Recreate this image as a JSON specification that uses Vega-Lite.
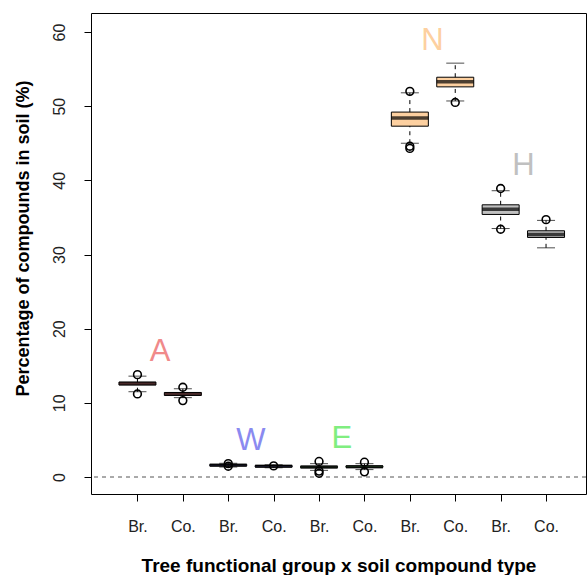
{
  "$schema": "https://vega.github.io/schema/vega-lite/v6.json",
  "width": 495,
  "height": 481,
  "autosize": "none",
  "padding": {"left": 91, "top": 13, "right": 1, "bottom": 81},
  "background": "white",
  "config": {
    "view": {"stroke": "black", "strokeWidth": 1},
    "font": "Liberation Sans",
    "axis": {
      "domain": false,
      "grid": false,
      "tickColor": "black",
      "tickSize": 7,
      "labelColor": "#222222",
      "labelFont": "Liberation Sans",
      "titleFont": "Liberation Sans",
      "titleColor": "black",
      "titleFontWeight": "bold"
    }
  },
  "datasets": {
    "boxes": [
      {"pos": 1, "group": "A", "type": "Br.", "lower": 11.5, "q1": 12.4, "median": 12.6, "q3": 12.8, "upper": 13.6},
      {"pos": 2, "group": "A", "type": "Co.", "lower": 10.7, "q1": 11.0, "median": 11.2, "q3": 11.4, "upper": 11.9},
      {"pos": 3, "group": "W", "type": "Br.", "lower": 1.35, "q1": 1.5, "median": 1.6, "q3": 1.7, "upper": 1.85},
      {"pos": 4, "group": "W", "type": "Co.", "lower": 1.25, "q1": 1.35, "median": 1.45, "q3": 1.55, "upper": 1.65},
      {"pos": 5, "group": "E", "type": "Br.", "lower": 0.9, "q1": 1.25, "median": 1.35, "q3": 1.45, "upper": 1.8},
      {"pos": 6, "group": "E", "type": "Co.", "lower": 1.0, "q1": 1.3, "median": 1.4, "q3": 1.5, "upper": 1.8},
      {"pos": 7, "group": "N", "type": "Br.", "lower": 45.0, "q1": 47.3, "median": 48.4, "q3": 49.2, "upper": 51.8},
      {"pos": 8, "group": "N", "type": "Co.", "lower": 50.7, "q1": 52.6, "median": 53.3, "q3": 53.9, "upper": 55.8},
      {"pos": 9, "group": "H", "type": "Br.", "lower": 33.5, "q1": 35.4, "median": 36.1, "q3": 36.7, "upper": 38.6},
      {"pos": 10, "group": "H", "type": "Co.", "lower": 30.9, "q1": 32.3, "median": 32.7, "q3": 33.2, "upper": 34.6}
    ],
    "outliers": [
      {"pos": 1, "value": 13.8}, {"pos": 1, "value": 11.2},
      {"pos": 2, "value": 12.1}, {"pos": 2, "value": 10.3},
      {"pos": 3, "value": 1.8}, {"pos": 3, "value": 1.45},
      {"pos": 4, "value": 1.5},
      {"pos": 5, "value": 2.1}, {"pos": 5, "value": 0.5}, {"pos": 5, "value": 0.8},
      {"pos": 6, "value": 2.0}, {"pos": 6, "value": 0.7},
      {"pos": 7, "value": 52.0}, {"pos": 7, "value": 44.3}, {"pos": 7, "value": 44.6},
      {"pos": 8, "value": 50.5},
      {"pos": 9, "value": 38.9}, {"pos": 9, "value": 33.4},
      {"pos": 10, "value": 34.7}
    ],
    "labels": [
      {"group": "A", "pos": 1.5, "value": 16.9},
      {"group": "W", "pos": 3.5, "value": 4.85},
      {"group": "E", "pos": 5.5, "value": 5.08},
      {"group": "N", "pos": 7.5, "value": 58.8},
      {"group": "H", "pos": 9.5, "value": 41.9}
    ]
  },
  "layer": [
    {
      "data": {"values": [{}]},
      "mark": {"type": "rule", "color": "#555555", "strokeWidth": 1, "strokeDash": [4, 4]},
      "encoding": {
        "y": {"datum": 0, "type": "quantitative"}
      }
    },
    {
      "data": {"name": "boxes"},
      "mark": {"type": "bar", "width": 37, "stroke": "black", "strokeWidth": 1, "opacity": 1},
      "encoding": {
        "x": {
          "field": "pos", "type": "quantitative",
          "scale": {"domain": [0.087, 10.77], "nice": false, "zero": false},
          "axis": {
            "values": [1, 2, 3, 4, 5, 6, 7, 8, 9, 10],
            "labelExpr": "datum.value % 2 == 1 ? 'Br.' : 'Co.'",
            "labelFontSize": 16,
            "labelPadding": 17,
            "title": "Tree functional group x soil compound type",
            "titleFontSize": 19,
            "titlePadding": 22
          }
        },
        "y": {
          "field": "q1", "type": "quantitative",
          "scale": {"domain": [-2.29, 62.56], "nice": false, "zero": false},
          "axis": {
            "values": [0, 10, 20, 30, 40, 50, 60],
            "labelAngle": -90,
            "labelAlign": "center",
            "labelBaseline": "bottom",
            "labelFontSize": 16,
            "labelPadding": 17,
            "title": "Percentage of compounds in soil (%)",
            "titleFontSize": 18,
            "titlePadding": 19,
            "titleY": 225
          }
        },
        "y2": {"field": "q3"},
        "fill": {
          "field": "group", "type": "nominal",
          "scale": {"domain": ["A", "W", "E", "N", "H"], "range": ["#F08A8A", "#8A8AF0", "#80EE80", "#FDD0A0", "#C0C0C0"]},
          "legend": null
        }
      }
    },
    {
      "data": {"name": "boxes"},
      "mark": {"type": "rule", "color": "black", "strokeWidth": 1, "strokeDash": [4, 4]},
      "encoding": {
        "x": {"field": "pos", "type": "quantitative"},
        "y": {"field": "q3", "type": "quantitative"},
        "y2": {"field": "upper"}
      }
    },
    {
      "data": {"name": "boxes"},
      "mark": {"type": "rule", "color": "black", "strokeWidth": 1, "strokeDash": [4, 4]},
      "encoding": {
        "x": {"field": "pos", "type": "quantitative"},
        "y": {"field": "lower", "type": "quantitative"},
        "y2": {"field": "q1"}
      }
    },
    {
      "data": {"name": "boxes"},
      "mark": {"type": "tick", "orient": "horizontal", "color": "black", "size": 18, "thickness": 1},
      "encoding": {
        "x": {"field": "pos", "type": "quantitative"},
        "y": {"field": "upper", "type": "quantitative"}
      }
    },
    {
      "data": {"name": "boxes"},
      "mark": {"type": "tick", "orient": "horizontal", "color": "black", "size": 18, "thickness": 1},
      "encoding": {
        "x": {"field": "pos", "type": "quantitative"},
        "y": {"field": "lower", "type": "quantitative"}
      }
    },
    {
      "data": {"name": "boxes"},
      "mark": {"type": "tick", "orient": "horizontal", "color": "black", "size": 37, "thickness": 3.5},
      "encoding": {
        "x": {"field": "pos", "type": "quantitative"},
        "y": {"field": "median", "type": "quantitative"}
      }
    },
    {
      "data": {"name": "outliers"},
      "mark": {"type": "point", "shape": "circle", "filled": false, "stroke": "black", "strokeWidth": 1.6, "size": 60, "opacity": 1},
      "encoding": {
        "x": {"field": "pos", "type": "quantitative"},
        "y": {"field": "value", "type": "quantitative"}
      }
    },
    {
      "data": {"name": "labels"},
      "mark": {"type": "text", "font": "Liberation Sans", "fontSize": 31, "align": "center", "baseline": "middle"},
      "encoding": {
        "x": {"field": "pos", "type": "quantitative"},
        "y": {"field": "value", "type": "quantitative"},
        "text": {"field": "group", "type": "nominal"},
        "color": {
          "field": "group", "type": "nominal",
          "scale": {"domain": ["A", "W", "E", "N", "H"], "range": ["#F08A8A", "#8A8AF0", "#80EE80", "#FDD0A0", "#C0C0C0"]},
          "legend": null
        }
      }
    }
  ]
}
